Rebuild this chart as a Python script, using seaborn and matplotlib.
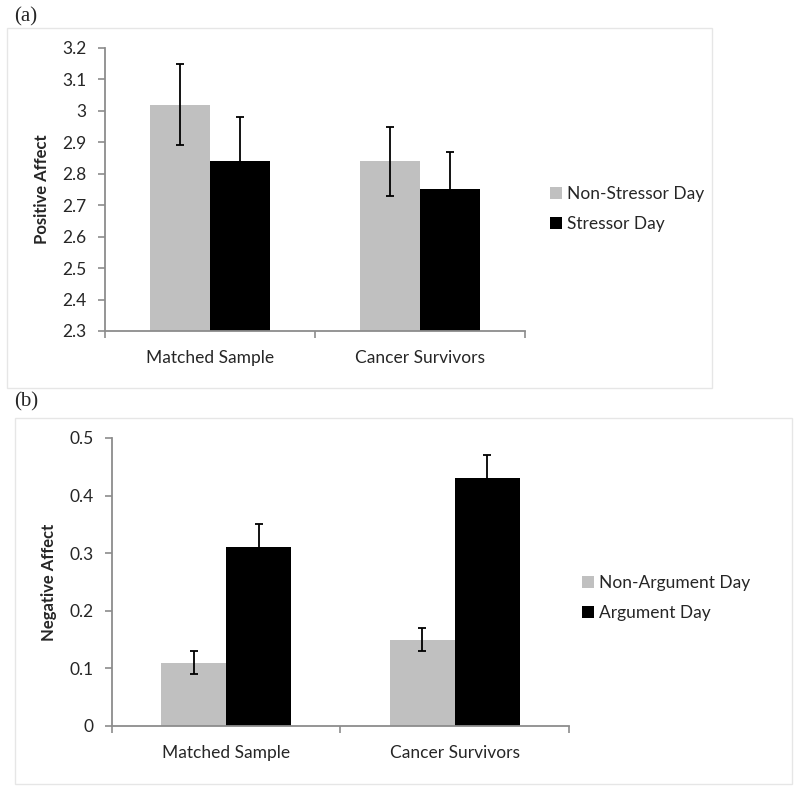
import numpy as np
import pandas as pd
import seaborn as sns
import matplotlib.pyplot as plt
from matplotlib.patches import Rectangle

sns.set_theme(style="ticks")
plt.rcParams['font.family'] = ['Lato', 'DejaVu Sans']

groups = ['Matched Sample', 'Cancer Survivors']

# panel (a): positive affect
stress_levels = ['Non-Stressor Day', 'Stressor Day']
pos_affect = [[3.02, 2.84], [2.84, 2.75]]   # rows = day type, cols = group
pos_err = [[0.13, 0.11], [0.14, 0.12]]

# panel (b): negative affect
arg_levels = ['Non-Argument Day', 'Argument Day']
neg_affect = [[0.11, 0.15], [0.31, 0.43]]
neg_err = [[0.02, 0.02], [0.04, 0.04]]

colors = ['#c0c0c0', '#000000']
spine_col = '#8c8c8c'


def make_df(levels, vals):
    rows = []
    for i, lev in enumerate(levels):
        for j, g in enumerate(groups):
            rows.append({'group': g, 'day': lev, 'value': vals[i][j]})
    return pd.DataFrame(rows)


def draw(ax, levels, vals, errs, ylabel, ylim, yticks):
    df = make_df(levels, vals)
    sns.barplot(data=df, x='group', y='value', hue='day', hue_order=levels,
                order=groups, palette=colors, width=0.57, errorbar=None,
                saturation=1, linewidth=0, ax=ax)
    bar_conts = list(ax.containers)
    for i, cont in enumerate(bar_conts):
        for j, bar in enumerate(cont.patches):
            xc = bar.get_x() + bar.get_width() / 2
            ax.errorbar(xc, bar.get_height(), yerr=errs[i][j], fmt='none',
                        ecolor='black', elinewidth=1.3, capsize=3.2,
                        capthick=1.3, zorder=5)
    ax.set_xlim(-0.5, 1.5)
    ax.set_ylim(*ylim)
    ax.set_yticks(yticks)
    ax.set_yticklabels(['%g' % t for t in yticks])
    ax.set_xticks([-0.5, 0.5, 1.5], minor=True)
    ax.tick_params(axis='x', which='major', length=0, pad=14, labelsize=12.5)
    ax.tick_params(axis='x', which='minor', length=5, width=1.2, color=spine_col,
                   direction='out')
    ax.tick_params(axis='y', length=5, width=1.2, color=spine_col, pad=8,
                   labelsize=12.5)
    ax.set_xlabel('')
    ax.set_ylabel(ylabel, fontsize=12, fontweight='bold', labelpad=9)
    sns.despine(ax=ax)
    for s in ['left', 'bottom']:
        ax.spines[s].set_color(spine_col)
        ax.spines[s].set_linewidth(1.3)
    h, l = ax.get_legend_handles_labels()
    if ax.get_legend() is not None:
        ax.get_legend().remove()
    return h, l


fig = plt.figure(figsize=(8, 7.93), dpi=100)

# chart frames
fig.patches.append(Rectangle((0.009, 0.511), 0.881, 0.454, transform=fig.transFigure,
                             fill=False, edgecolor='#e6e6e6', linewidth=1))
fig.patches.append(Rectangle((0.019, 0.011), 0.971, 0.4615, transform=fig.transFigure,
                             fill=False, edgecolor='#e6e6e6', linewidth=1))

ax1 = fig.add_axes([0.131, 0.5826, 0.525, 0.357])
h, l = draw(ax1, stress_levels, pos_affect, pos_err, 'Positive Affect',
            (2.3, 3.2), np.round(np.arange(2.3, 3.21, 0.1), 1))
fig.legend(h, l, loc='center left', bbox_to_anchor=(0.687, 0.736), frameon=False,
           fontsize=12.5, handlelength=0.7, handleheight=0.7, handletextpad=0.3,
           labelspacing=0.8, borderpad=0, borderaxespad=0)

ax2 = fig.add_axes([0.14, 0.0845, 0.571, 0.3632])
h, l = draw(ax2, arg_levels, neg_affect, neg_err, 'Negative Affect',
            (0, 0.5), np.round(np.arange(0, 0.51, 0.1), 1))
fig.legend(h, l, loc='center left', bbox_to_anchor=(0.727, 0.246), frameon=False,
           fontsize=12.5, handlelength=0.7, handleheight=0.7, handletextpad=0.3,
           labelspacing=0.8, borderpad=0, borderaxespad=0)

fig.text(0.018, 0.979, '(a)', fontsize=15, family='Liberation Serif', va='center')
fig.text(0.018, 0.493, '(b)', fontsize=15, family='Liberation Serif', va='center')

fig.savefig('out.png', dpi=100)
